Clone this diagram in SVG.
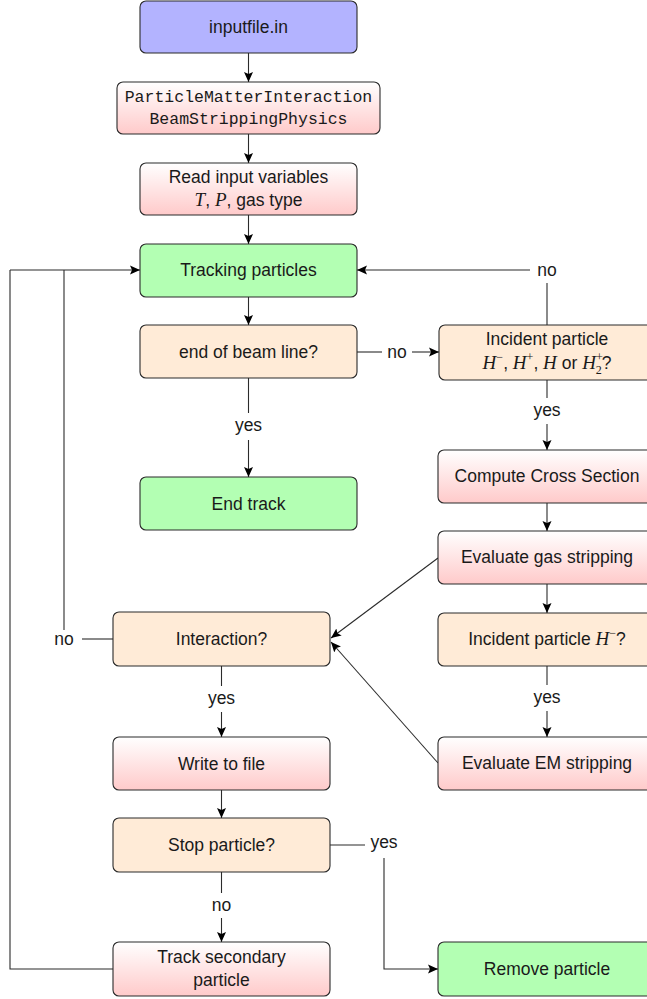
<svg xmlns="http://www.w3.org/2000/svg" width="647" height="999" viewBox="0 0 647 999">
<style>
.box{stroke:#2b2b2b;stroke-width:1.1}
.blue{fill:#b3b3ff}
.green{fill:#b3ffb3}
.orange{fill:#ffebd7}
.pink{fill:url(#pg)}
.t{font-family:"Liberation Sans",Arial,sans-serif;font-size:17.5px;fill:#1a1a1a;text-anchor:middle}
.m{font-family:"Liberation Mono","Courier New",monospace;font-size:16.5px;fill:#1a1a1a;text-anchor:middle}
.i{font-family:"Liberation Serif","Times New Roman",serif;font-style:italic;font-size:19px}
.s{font-family:"Liberation Serif","Times New Roman",serif;font-size:12px}
.c{fill:none;stroke:#2b2b2b;stroke-width:1.1}
.a{marker-end:url(#ah)}
</style>
<defs>
<linearGradient id="pg" x1="0" y1="0" x2="0" y2="1">
<stop offset="0" stop-color="#ffffff"/>
<stop offset="1" stop-color="#ffcaca"/>
</linearGradient>
<marker id="ah" viewBox="0 0 10 10" refX="10" refY="5" markerWidth="10" markerHeight="10" markerUnits="userSpaceOnUse" orient="auto">
<path d="M0,0.5 L10,5 L0,9.5 L2,5 Z" fill="#000"/>
</marker>
</defs>

<g id="connectors">
<path class="c a" d="M248.5,53 V82"/>
<path class="c a" d="M248.5,134 V163"/>
<path class="c a" d="M248.5,215 V244"/>
<path class="c a" d="M248.5,297 V325"/>
<path class="c" d="M357,352 H382"/>
<text class="t" x="397" y="358">no</text>
<path class="c a" d="M412,352 H439"/>
<path class="c" d="M547,325 V283"/>
<text class="t" x="547" y="276">no</text>
<path class="c a" d="M530,270 H357"/>
<path class="c" d="M248.5,378 V413"/>
<text class="t" x="248.5" y="431">yes</text>
<path class="c a" d="M248.5,440 V477"/>
<path class="c" d="M547,380 V398"/>
<text class="t" x="547" y="416">yes</text>
<path class="c a" d="M547,424 V450"/>
<path class="c a" d="M547,503 V531"/>
<path class="c a" d="M547,584 V613"/>
<path class="c" d="M547,666 V685"/>
<text class="t" x="547" y="703">yes</text>
<path class="c a" d="M547,711 V737"/>
<path class="c a" d="M438,558 L331,638"/>
<path class="c a" d="M438,763 L331,642"/>
<path class="c" d="M113,639 H82"/>
<text class="t" x="64" y="645">no</text>
<path class="c" d="M64,630 V270"/>
<path class="c a" d="M10,270 H140"/>
<path class="c" d="M113,969 H10 V270"/>
<path class="c" d="M221.5,666 V686"/>
<text class="t" x="221.5" y="704">yes</text>
<path class="c a" d="M221.5,712 V737"/>
<path class="c a" d="M221.5,790 V818"/>
<path class="c" d="M221.5,872 V893"/>
<text class="t" x="221.5" y="911">no</text>
<path class="c a" d="M221.5,918 V942"/>
<path class="c" d="M330,845 H365"/>
<text class="t" x="384" y="848">yes</text>
<path class="c a" d="M384,858 V969 H438"/>
</g>

<g id="inputfile">
<rect class="box blue" x="140" y="1" width="217" height="52" rx="6"/>
<text class="t" x="248.5" y="33">inputfile.in</text>
</g>
<g id="pmi">
<rect class="box pink" x="117" y="82" width="263" height="52" rx="6"/>
<text class="m" x="248.5" y="102">ParticleMatterInteraction</text>
<text class="m" x="248.5" y="124">BeamStrippingPhysics</text>
</g>
<g id="readinput">
<rect class="box pink" x="140" y="163" width="217" height="52" rx="6"/>
<text class="t" x="248.5" y="183">Read input variables</text>
<text class="t" x="248.5" y="206"><tspan class="i">T</tspan>, <tspan class="i">P</tspan>, gas type</text>
</g>
<g id="tracking">
<rect class="box green" x="140" y="244" width="217" height="53" rx="6"/>
<text class="t" x="248.5" y="276">Tracking particles</text>
</g>
<g id="endbeam">
<rect class="box orange" x="140" y="325" width="217" height="53" rx="6"/>
<text class="t" x="248.5" y="358">end of beam line?</text>
</g>
<g id="endtrack">
<rect class="box green" x="140" y="477" width="217" height="53" rx="6"/>
<text class="t" x="248.5" y="510">End track</text>
</g>
<g id="incident">
<rect class="box orange" x="439" y="325" width="217" height="55" rx="6"/>
<text class="t" x="547" y="345">Incident particle</text>
<text class="t" x="547" y="369"><tspan class="i">H</tspan><tspan class="s" dy="-8">−</tspan><tspan dy="8">, </tspan><tspan class="i">H</tspan><tspan class="s" dy="-8">+</tspan><tspan dy="8">, </tspan><tspan class="i">H</tspan> or <tspan class="i">H</tspan><tspan class="s" dy="-8">+</tspan><tspan class="s" dx="-7" dy="13">2</tspan><tspan dy="-5">?</tspan></text>
</g>
<g id="crosssection">
<rect class="box pink" x="438" y="450" width="217" height="53" rx="6"/>
<text class="t" x="547" y="482">Compute Cross Section</text>
</g>
<g id="gasstripping">
<rect class="box pink" x="438" y="531" width="217" height="53" rx="6"/>
<text class="t" x="547" y="563">Evaluate gas stripping</text>
</g>
<g id="incidenthminus">
<rect class="box orange" x="438" y="613" width="217" height="53" rx="6"/>
<text class="t" x="547" y="645">Incident particle <tspan class="i">H</tspan><tspan class="s" dy="-8">−</tspan><tspan dy="8">?</tspan></text>
</g>
<g id="emstripping">
<rect class="box pink" x="438" y="737" width="217" height="53" rx="6"/>
<text class="t" x="547" y="769">Evaluate EM stripping</text>
</g>
<g id="interaction">
<rect class="box orange" x="113" y="612" width="217" height="54" rx="6"/>
<text class="t" x="221.5" y="645">Interaction?</text>
</g>
<g id="writefile">
<rect class="box pink" x="113" y="737" width="217" height="53" rx="6"/>
<text class="t" x="221.5" y="770">Write to file</text>
</g>
<g id="stopparticle">
<rect class="box orange" x="113" y="818" width="217" height="54" rx="6"/>
<text class="t" x="221.5" y="851">Stop particle?</text>
</g>
<g id="tracksecondary">
<rect class="box pink" x="113" y="942" width="217" height="54" rx="6"/>
<text class="t" x="221.5" y="963">Track secondary</text>
<text class="t" x="221.5" y="986">particle</text>
</g>
<g id="removeparticle">
<rect class="box green" x="438" y="942" width="217" height="54" rx="6"/>
<text class="t" x="547" y="975">Remove particle</text>
</g>
</svg>
